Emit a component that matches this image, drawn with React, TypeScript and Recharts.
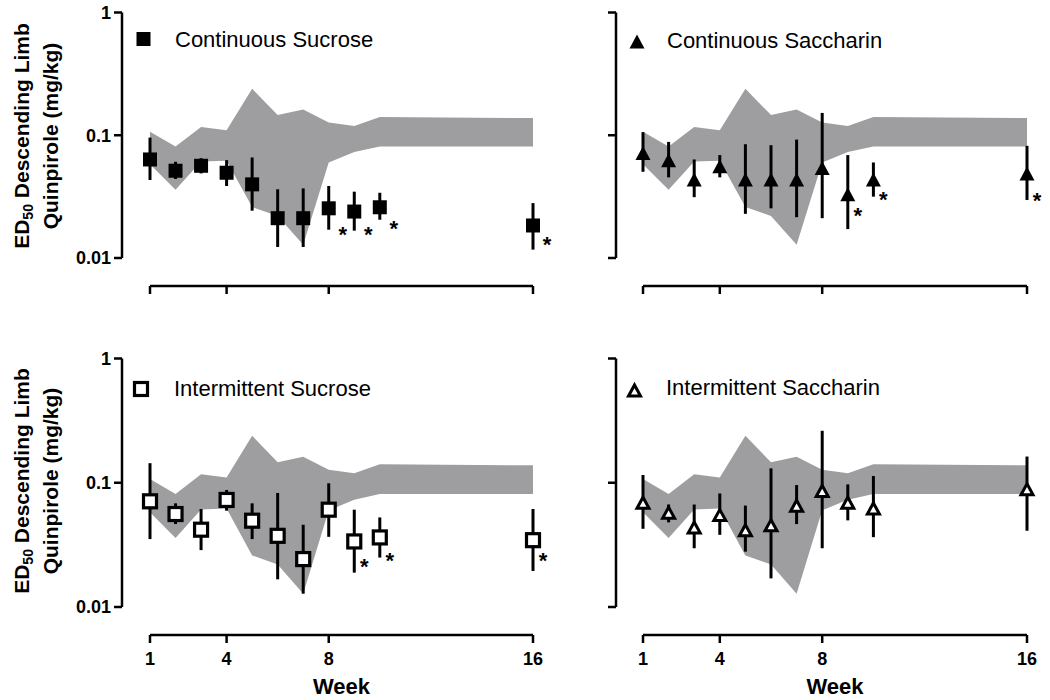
import React from 'react';
import { ComposedChart, Area, Scatter, ErrorBar, XAxis, YAxis } from 'recharts';

const FONT = '"Liberation Sans", Arial, Helvetica, sans-serif';
const BAND = '#9e9ea1';

const weeks = [1, 2, 3, 4, 5, 6, 7, 8, 9, 10, 16];
const xTicks = [1, 4, 8, 16];
const yTicks = [0.01, 0.1, 1];

// grey range, the same in all four panels
const bandLow = [0.058, 0.036, 0.061, 0.062, 0.026, 0.022, 0.0128, 0.06, 0.073, 0.081, 0.081];
const bandHigh = [0.107, 0.081, 0.117, 0.11, 0.239, 0.146, 0.162, 0.127, 0.119, 0.141, 0.138];

// Continuous Sucrose
const csMean = [0.0635, 0.0514, 0.0564, 0.0495, 0.0398, 0.0211, 0.0211, 0.0254, 0.0239, 0.0259, 0.0184];
const csLow = [0.0432, 0.044, 0.0489, 0.0386, 0.0243, 0.0123, 0.0123, 0.017, 0.0167, 0.0205, 0.0117];
const csHigh = [0.0957, 0.0608, 0.065, 0.0627, 0.0659, 0.0363, 0.0369, 0.0386, 0.0347, 0.034, 0.028];
const csStarWeeks = [8, 9, 10, 16];
const csStarY = [0.0172, 0.0171, 0.019, 0.0141];

// Continuous Saccharin
const ctMean = [0.071, 0.0619, 0.0432, 0.0554, 0.0432, 0.0432, 0.0432, 0.0537, 0.0327, 0.0432, 0.0483];
const ctLow = [0.0504, 0.0454, 0.0313, 0.0454, 0.0229, 0.0254, 0.0215, 0.0211, 0.0172, 0.0316, 0.0297];
const ctHigh = [0.106, 0.0883, 0.0635, 0.0689, 0.0845, 0.083, 0.0922, 0.152, 0.0689, 0.06, 0.082];
const ctStarWeeks = [9, 10, 16];
const ctStarY = [0.0243, 0.0327, 0.0324];

// Intermittent Sucrose
const isMean = [0.0709, 0.056, 0.0419, 0.0727, 0.0495, 0.0374, 0.0243, 0.0607, 0.0337, 0.0363, 0.0345];
const isLow = [0.0352, 0.0465, 0.0287, 0.0596, 0.0352, 0.0167, 0.0128, 0.0367, 0.0189, 0.025, 0.0195];
const isHigh = [0.1437, 0.0683, 0.0615, 0.0875, 0.0683, 0.0828, 0.0459, 0.099, 0.0607, 0.0526, 0.0615];
const isStarWeeks = [9, 10, 16];
const isStarY = [0.0232, 0.0261, 0.0262];

// Intermittent Saccharin (no significant weeks)
const itMean = [0.0697, 0.0578, 0.044, 0.0554, 0.0419, 0.0459, 0.0659, 0.0867, 0.0697, 0.0627, 0.0894];
const itLow = [0.0426, 0.048, 0.0297, 0.0381, 0.0279, 0.017, 0.0465, 0.0297, 0.0498, 0.0365, 0.0411];
const itHigh = [0.1154, 0.0668, 0.0668, 0.082, 0.0655, 0.1306, 0.0958, 0.262, 0.097, 0.1133, 0.1625];

const bandData = weeks.map((w, i) => ({ week: w, range: [bandLow[i], bandHigh[i]] }));

const makePoints = (mean: number[], lo: number[], hi: number[]) =>
    weeks.map((w, i) => ({ week: w, v: mean[i], err: [mean[i] - lo[i], hi[i] - mean[i]] }));

const makeStars = (ws: number[], ys: number[]) => ws.map((w, i) => ({ week: w, star: ys[i] }));

// marker shapes
const FilledSquare = ({ cx, cy }: any) => <rect x={cx - 7} y={cy - 7} width={14} height={14} fill="#000" />;
const OpenSquare = ({ cx, cy }: any) => (
    <rect x={cx - 6.5} y={cy - 6.5} width={13} height={13} fill="#fff" stroke="#000" strokeWidth={3.2} />
);
const FilledTriangle = ({ cx, cy }: any) => (
    <path d={`M${cx},${cy - 7.5}L${cx + 7.5},${cy + 6.5}L${cx - 7.5},${cy + 6.5}Z`} fill="#000" />
);
const OpenTriangle = ({ cx, cy }: any) => (
    <path
        d={`M${cx},${cy - 5}L${cx + 6},${cy + 6}L${cx - 6},${cy + 6}Z`}
        fill="#fff"
        stroke="#000"
        strokeWidth={3}
    />
);

const starShape = (dx: number) => ({ cx, cy }: any) => (
    <text x={cx + dx} y={cy + 12.5} textAnchor="middle" fontFamily={FONT} fontWeight="bold" fontSize={22} fill="#000">
        *
    </text>
);

type PanelProps = {
    left: number;
    top: number;
    width: number;
    height: number;
    margin: { top: number; right: number; bottom: number; left: number };
    padX: number;
    dataW: number;
    dataH: number;
    showY: boolean;
    showX: boolean;
    points: any[];
    stars: any[];
    shape: any;
    starDx: number;
};

const PAD_RIGHT = 20;

function Panel(p: PanelProps) {
    const axisStroke = { stroke: '#000', strokeWidth: 2.5 };
    const tickStyle = { fill: '#000', fontSize: 18, fontWeight: 'bold', fontFamily: FONT };
    return (
        <div style={{ position: 'absolute', left: p.left, top: p.top }}>
            <ComposedChart width={p.width} height={p.height} data={bandData} margin={p.margin}>
                <XAxis
                    dataKey="week"
                    type="number"
                    domain={[1, 16]}
                    ticks={xTicks}
                    interval={0}
                    padding={{ left: p.padX, right: PAD_RIGHT }}
                    height={36}
                    tickSize={8}
                    tickMargin={9}
                    axisLine={{ ...axisStroke, strokeDasharray: `0 ${p.padX} ${p.dataW} 3000` }}
                    tickLine={axisStroke}
                    tick={tickStyle}
                    tickFormatter={(v) => (p.showX ? String(v) : '')}
                />
                <YAxis
                    type="number"
                    scale="log"
                    domain={[0.01, 1]}
                    ticks={yTicks}
                    interval={0}
                    width={60}
                    padding={{ top: 0, bottom: 28 }}
                    tickSize={8}
                    tickMargin={3}
                    axisLine={{ ...axisStroke, strokeDasharray: `${p.dataH} 2000` }}
                    tickLine={axisStroke}
                    tick={tickStyle}
                    tickFormatter={(v) => (p.showY ? String(v) : '')}
                />
                <Area
                    dataKey="range"
                    type="linear"
                    fill={BAND}
                    fillOpacity={1}
                    stroke="none"
                    dot={false}
                    activeDot={false}
                    isAnimationActive={false}
                />
                <Scatter data={p.points} dataKey="v" shape={p.shape} isAnimationActive={false}>
                    <ErrorBar dataKey="err" direction="y" width={0} stroke="#000" strokeWidth={3} />
                </Scatter>
                {p.stars.length > 0 && (
                    <Scatter data={p.stars} dataKey="star" shape={starShape(p.starDx)} isAnimationActive={false} />
                )}
            </ComposedChart>
        </div>
    );
}

function YTitle({ cy }: { cy: number }) {
    return (
        <g fontFamily={FONT} fontWeight="bold" fontSize={21} fill="#000">
            <text transform={`translate(29,${cy}) rotate(-90)`} textAnchor="middle">
                ED
                <tspan fontSize={14} dy={4}>
                    50
                </tspan>
                <tspan dy={-4}>{' Descending Limb'}</tspan>
            </text>
            <text transform={`translate(58,${cy}) rotate(-90)`} textAnchor="middle">
                Quinpirole (mg/kg)
            </text>
        </g>
    );
}

function LegendText({ x, y, label }: { x: number; y: number; label: string }) {
    return (
        <text x={x} y={y} fontFamily={FONT} fontSize={22} fill="#000">
            {label}
        </text>
    );
}

export default function App() {
    return (
        <div style={{ position: 'absolute', left: 0, top: 0, width: 1050, height: 700, background: '#fff' }}>
            <Panel
                left={0}
                top={0}
                width={570}
                height={330}
                margin={{ top: 12.5, right: 570 - 533 - PAD_RIGHT, bottom: 8, left: 62 }}
                padX={28}
                dataW={383}
                dataH={245.5}
                showY
                showX={false}
                points={makePoints(csMean, csLow, csHigh)}
                stars={makeStars(csStarWeeks, csStarY)}
                shape={FilledSquare}
                starDx={14}
            />
            <Panel
                left={520}
                top={0}
                width={530}
                height={330}
                margin={{ top: 12.5, right: 1050 - 1027 - PAD_RIGHT, bottom: 8, left: 36 }}
                padX={27}
                dataW={384}
                dataH={245.5}
                showY={false}
                showX={false}
                points={makePoints(ctMean, ctLow, ctHigh)}
                stars={makeStars(ctStarWeeks, ctStarY)}
                shape={FilledTriangle}
                starDx={10}
            />
            <Panel
                left={0}
                top={340}
                width={570}
                height={360}
                margin={{ top: 18.5, right: 570 - 533 - PAD_RIGHT, bottom: 29, left: 62 }}
                padX={28}
                dataW={383}
                dataH={248.5}
                showY
                showX
                points={makePoints(isMean, isLow, isHigh)}
                stars={makeStars(isStarWeeks, isStarY)}
                shape={OpenSquare}
                starDx={10}
            />
            <Panel
                left={520}
                top={340}
                width={530}
                height={360}
                margin={{ top: 18.5, right: 1050 - 1027 - PAD_RIGHT, bottom: 29, left: 36 }}
                padX={27}
                dataW={384}
                dataH={248.5}
                showY={false}
                showX
                points={makePoints(itMean, itLow, itHigh)}
                stars={[]}
                shape={OpenTriangle}
                starDx={10}
            />
            <svg
                width={1050}
                height={700}
                style={{ position: 'absolute', left: 0, top: 0, pointerEvents: 'none' }}
            >
                <YTitle cy={136} />
                <YTitle cy={481} />

                <FilledSquare cx={143.5} cy={39} />
                <LegendText x={175} y={46.5} label="Continuous Sucrose" />
                <FilledTriangle cx={637} cy={42} />
                <LegendText x={667} y={47.5} label="Continuous Saccharin" />
                <OpenSquare cx={141} cy={389} />
                <LegendText x={174} y={396} label="Intermittent Sucrose" />
                <OpenTriangle cx={634.5} cy={390} />
                <LegendText x={666} y={395} label="Intermittent Saccharin" />

                <g fontFamily={FONT} fontWeight="bold" fontSize={22} fill="#000" textAnchor="middle">
                    <text x={341.5} y={694}>Week</text>
                    <text x={835} y={694}>Week</text>
                </g>
            </svg>
        </div>
    );
}
